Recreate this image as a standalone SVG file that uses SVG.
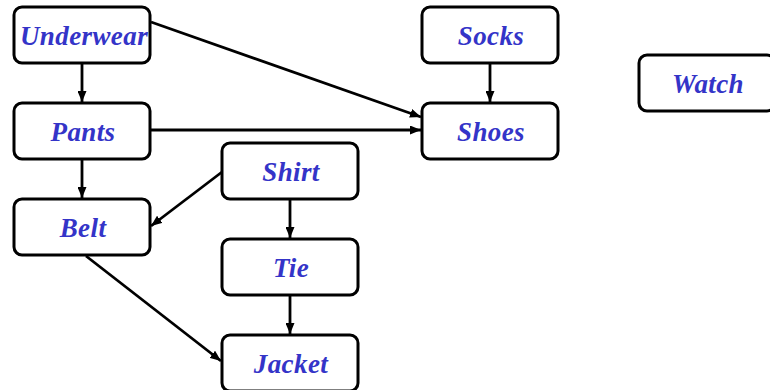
<svg xmlns="http://www.w3.org/2000/svg" width="770" height="390" viewBox="0 0 770 390">
<style>
.box{fill:#fff;stroke:#000;stroke-width:3}
.lbl{font-family:"Liberation Serif",serif;font-weight:bold;font-style:italic;font-size:27px;letter-spacing:0.4px;fill:#3434c8;text-anchor:middle}
.edge{stroke:#000;stroke-width:2.8;fill:none;marker-end:url(#ah)}
</style>
<defs>
<marker id="ah" viewBox="0 0 11 9" refX="11" refY="4.5" markerWidth="11" markerHeight="9" markerUnits="userSpaceOnUse" orient="auto">
<path d="M0,0 L11,4.5 L0,9 Z" fill="#000"/>
</marker>
</defs>
<g id="edges">
<line class="edge" x1="82" y1="64" x2="82" y2="102"/>
<line class="edge" x1="151" y1="22" x2="421" y2="117"/>
<line class="edge" x1="151" y1="130" x2="421" y2="130"/>
<line class="edge" x1="82" y1="160" x2="82" y2="198"/>
<line class="edge" x1="490" y1="64" x2="490" y2="102"/>
<line class="edge" x1="222" y1="172" x2="151" y2="226"/>
<line class="edge" x1="290" y1="200" x2="290" y2="238"/>
<line class="edge" x1="86" y1="256" x2="221" y2="361"/>
<line class="edge" x1="290" y1="296" x2="290" y2="334"/>
</g>
<g id="underwear"><rect class="box" x="14" y="7" width="136" height="56" rx="8"/><text class="lbl" x="84" y="45">Underwear</text></g>
<g id="pants"><rect class="box" x="14" y="103" width="136" height="56" rx="8"/><text class="lbl" x="83" y="141">Pants</text></g>
<g id="belt"><rect class="box" x="14" y="199" width="136" height="56" rx="8"/><text class="lbl" x="83" y="237">Belt</text></g>
<g id="shirt"><rect class="box" x="222" y="143" width="136" height="56" rx="8"/><text class="lbl" x="291" y="181">Shirt</text></g>
<g id="tie"><rect class="box" x="222" y="239" width="136" height="56" rx="8"/><text class="lbl" x="291" y="277">Tie</text></g>
<g id="jacket"><rect class="box" x="222" y="335" width="136" height="56" rx="8"/><text class="lbl" x="291" y="373">Jacket</text></g>
<g id="socks"><rect class="box" x="422" y="7" width="136" height="56" rx="8"/><text class="lbl" x="491" y="45">Socks</text></g>
<g id="shoes"><rect class="box" x="422" y="103" width="136" height="56" rx="8"/><text class="lbl" x="491" y="141">Shoes</text></g>
<g id="watch"><rect class="box" x="639" y="55" width="136" height="56" rx="8"/><text class="lbl" x="708" y="93">Watch</text></g>
</svg>
